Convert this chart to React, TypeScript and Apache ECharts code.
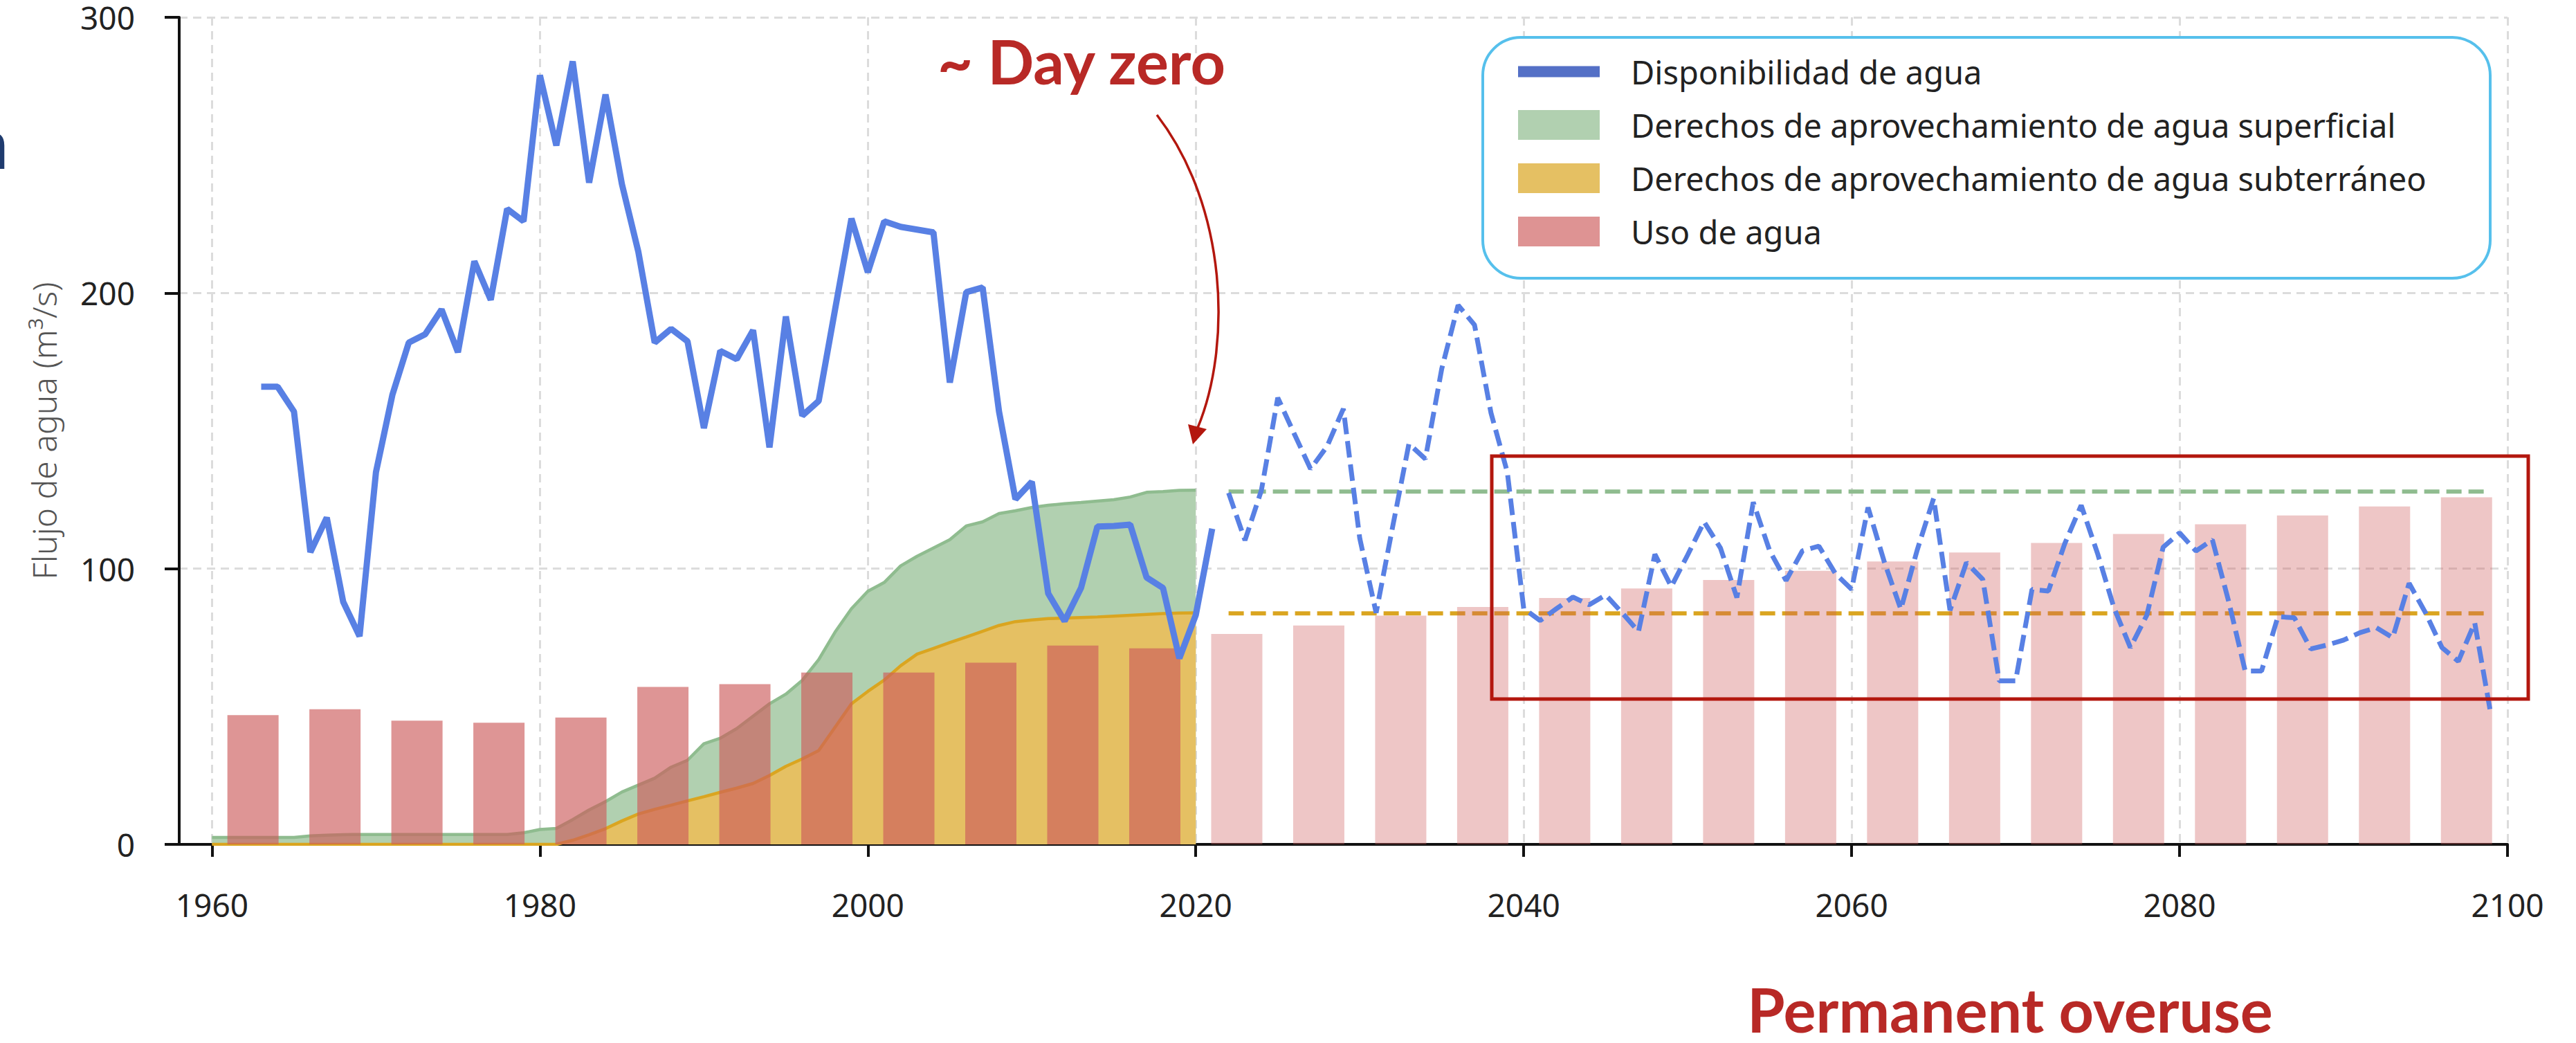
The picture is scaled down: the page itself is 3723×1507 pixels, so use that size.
import { useEffect, useRef } from "react";
import * as echarts from "echarts";

// ---------- data ----------
const xTickYears = [1960, 1980, 2000, 2020, 2040, 2060, 2080, 2100];

// Observed water availability (solid), one value per year from 1963
const observedStartYear = 1963;
const observedAvailability = [
  166, 166, 157, 106, 118.5, 88, 75.5, 135, 163, 182,
  185, 194, 178.5, 211.5, 197.5, 230.5, 226, 279, 253.5, 284,
  240, 272, 239.5, 215, 182, 187, 182.5, 151, 179, 176,
  186.5, 144, 191.5, 155.5, 160.8, 194, 227, 207.5, 226, 224,
  223, 222, 167.5, 200.3, 202, 157, 125.2, 131.5, 91, 81,
  93, 115.3, 115.5, 116, 96.8, 93, 67.5, 83.2, 114.5,
];

// Projected water availability (dashed), one value per year from 2022
const projectedStartYear = 2022;
const projectedAvailability = [
  127.5, 110.3, 128.4, 162, 149, 136.2, 144.3, 158, 111, 84,
  115, 145.3, 139.8, 172.5, 195.6, 188.4, 156.6, 135, 85.5, 81.2,
  85.5, 89.7, 86.9, 90.5, 84, 77.2, 105.2, 93.5, 105, 117,
  107.5, 89.5, 124.1, 106.5, 95.7, 106.5, 108.2, 98.3, 92.5, 122.2,
  102.3, 85.3, 106.8, 125.5, 84.9, 102.2, 96.1, 59.3, 59.3, 92.5,
  91.9, 109.1, 123, 105.5, 85.8, 71.4, 83.1, 107.8, 113, 106.4,
  110.5, 88, 62.9, 62.9, 82.6, 82.2, 70.9, 72.3, 74.1, 76.8,
  78.6, 75, 94.7, 84, 71.4, 66.4, 80.4, 46.7,
];

// Water-right allocations, one value per year from 1960 to 2020
const rightsStartYear = 1960;
const surfaceRights = [
  2.5, 2.5, 2.5, 2.5, 2.5, 2.5, 3.1, 3.3, 3.5, 3.6,
  3.6, 3.6, 3.6, 3.6, 3.6, 3.6, 3.6, 3.6, 3.6, 4.2,
  5.4, 5.8, 9, 12.5, 15.5, 19, 21.5, 24, 28, 30.5,
  36.5, 38.5, 42, 46.5, 51, 54.5, 59.5, 67, 77, 85.5,
  91.8, 95, 101, 104.5, 107.5, 110.5, 115.5, 117, 120, 121,
  122.2, 123, 123.6, 124, 124.5, 125, 126, 127.7, 128, 128.4,
  128.5,
];
const groundRights = [
  0, 0, 0, 0, 0, 0, 0, 0, 0, 0,
  0, 0, 0, 0, 0, 0, 0, 0, 0, 0,
  0, 0, 1.5, 3.5, 5.7, 8.5, 11, 12.7, 14.2, 15.8,
  17.3, 18.9, 20.4, 22.1, 25, 28.3, 31, 34, 42.5, 51,
  55.5, 59.6, 64.8, 69, 71.1, 73.2, 75.2, 77.3, 79.4, 80.8,
  81.4, 81.9, 82.1, 82.3, 82.5, 82.8, 83.1, 83.4, 83.7, 83.9,
  84,
];

// Projected (constant) rights
const rightsProjectionYears = [2022, 2098.6];
const surfaceRightsProjected = [128, 128];
const groundRightsProjected = [83.8, 83.8];

// Water use (bars), every 5 years
const useYears = [
  1962.5, 1967.5, 1972.5, 1977.5, 1982.5, 1987.5, 1992.5, 1997.5, 2002.5, 2007.5,
  2012.5, 2017.5, 2022.5, 2027.5, 2032.5, 2037.5, 2042.5, 2047.5, 2052.5, 2057.5,
  2062.5, 2067.5, 2072.5, 2077.5, 2082.5, 2087.5, 2092.5, 2097.5,
];
const waterUse = [
  46.9, 49.0, 44.9, 44.1, 46.0, 57.1, 58.1, 62.3, 62.3, 65.9,
  72.1, 71.1, 76.3, 79.4, 83.0, 86.1, 89.4, 92.8, 95.9, 99.2,
  102.6, 105.9, 109.3, 112.6, 116.1, 119.3, 122.6, 125.9,
];
const lastObservedYear = 2021;

const NAME_AVAIL = "Disponibilidad de agua";
const NAME_SURF = "Derechos de aprovechamiento de agua superficial";
const NAME_GROUND = "Derechos de aprovechamiento de agua subterráneo";
const NAME_USE = "Uso de agua";

// ---------- styles ----------
const BLUE = "#5880e4";
const GREEN_LINE = "#8fbc8f";
const GREEN_FILL = "#b1d0b0";
const GOLD_LINE = "#daa520";
const GOLD_FILL = "#e5c063";
const RED_TEXT = "#b82926";
const RED_MARK = "#b3170e";
const FONT = "'Noto Sans', 'DejaVu Sans', sans-serif";

function buildOption() {
  const pairs = (start: number, vals: number[]) => vals.map((v, i) => [start + i, v]);

  return {
    animation: false,
    backgroundColor: "#ffffff",
    textStyle: { fontFamily: FONT },
    grid: { left: 259, right: 99, top: 25, bottom: 287, outerBoundsMode: "none", containLabel: false },
    legend: {
      show: true,
      orient: "vertical",
      left: 2194,
      top: 80,
      padding: 0,
      itemWidth: 118,
      itemHeight: 43,
      itemGap: 30,
      selectedMode: false,
      z: 10,
      textStyle: { fontFamily: FONT, fontSize: 47, color: "#222", padding: [0, 0, 0, 40] },
      data: [
        { name: NAME_AVAIL, icon: "path://M0,0H118V16H0Z", itemStyle: { color: "#5470c6", borderWidth: 0 } },
        { name: NAME_SURF, icon: "rect", itemStyle: { color: GREEN_FILL, borderWidth: 0 } },
        { name: NAME_GROUND, icon: "rect", itemStyle: { color: GOLD_FILL, borderWidth: 0 } },
        { name: NAME_USE, icon: "rect", itemStyle: { color: "#de9393", borderWidth: 0 } },
      ],
    },
    xAxis: {
      type: "value",
      min: 1958,
      max: 2100,
      axisLine: { show: true, onZero: false, lineStyle: { color: "#111", width: 4 } },
      axisTick: { show: true, customValues: xTickYears, length: 18, lineStyle: { color: "#111", width: 4 } },
      axisLabel: {
        show: true,
        customValues: xTickYears,
        margin: 64,
        fontSize: 46,
        color: "#222",
        fontFamily: FONT,
        formatter: (v: number) => String(v),
      },
      splitLine: { show: true, lineStyle: { color: "#dcdcdc", width: 3, type: [12, 8] } },
    },
    yAxis: {
      type: "value",
      min: 0,
      max: 300,
      interval: 100,
      name: "Flujo de agua (m³/s)",
      nameLocation: "middle",
      nameGap: 172,
      nameTextStyle: { fontFamily: FONT, fontSize: 48, fontWeight: 300, color: "#555" },
      axisLine: { show: true, lineStyle: { color: "#111", width: 4 } },
      axisTick: { show: true, length: 21, lineStyle: { color: "#111", width: 4 } },
      axisLabel: { margin: 64, fontSize: 46, color: "#222", fontFamily: FONT, formatter: (v: number) => String(v) },
      splitLine: { show: true, lineStyle: { color: "#dcdcdc", width: 3, type: [12, 8] } },
    },
    series: [
      {
        name: NAME_SURF,
        type: "line",
        z: 2,
        data: pairs(rightsStartYear, surfaceRights),
        symbol: "none",
        silent: true,
        lineStyle: { color: GREEN_LINE, width: 4.5 },
        itemStyle: { color: GREEN_FILL },
        areaStyle: { color: GREEN_FILL, opacity: 1 },
      },
      {
        name: NAME_GROUND,
        type: "line",
        z: 2,
        data: pairs(rightsStartYear, groundRights),
        symbol: "none",
        silent: true,
        lineStyle: { color: GOLD_LINE, width: 4.5 },
        itemStyle: { color: GOLD_FILL },
        areaStyle: { color: GOLD_FILL, opacity: 1 },
      },
      {
        name: "Derechos superficiales (proyección)",
        type: "line",
        z: 2,
        data: rightsProjectionYears.map((y, i) => [y, surfaceRightsProjected[i]]),
        symbol: "none",
        silent: true,
        lineStyle: { color: GREEN_LINE, width: 6, type: [22, 10] },
      },
      {
        name: "Derechos subterráneos (proyección)",
        type: "line",
        z: 2,
        data: rightsProjectionYears.map((y, i) => [y, groundRightsProjected[i]]),
        symbol: "none",
        silent: true,
        lineStyle: { color: GOLD_LINE, width: 6, type: [22, 10] },
      },
      {
        name: NAME_USE,
        type: "bar",
        z: 3,
        barWidth: 74,
        silent: true,
        itemStyle: { color: "rgba(205,92,92,0.65)" },
        data: useYears.map((y, i) => ({
          value: [y, waterUse[i]],
          itemStyle: { color: y < lastObservedYear ? "rgba(205,92,92,0.65)" : "rgba(205,92,92,0.35)" },
        })),
      },
      {
        name: NAME_AVAIL,
        type: "line",
        z: 4,
        data: pairs(observedStartYear, observedAvailability),
        symbol: "none",
        silent: true,
        itemStyle: { color: "#5470c6" },
        lineStyle: { color: BLUE, width: 9 },
      },
      {
        name: "Disponibilidad de agua (proyección)",
        type: "line",
        z: 4,
        data: pairs(projectedStartYear, projectedAvailability),
        symbol: "none",
        silent: true,
        lineStyle: { color: BLUE, width: 7, type: [24, 10] },
      },
    ],
    graphic: [
      {
        type: "rect",
        z: 8,
        silent: true,
        shape: { x: 2143, y: 54, width: 1456, height: 348, r: 55 },
        style: { fill: "#ffffff", stroke: "#56c0ec", lineWidth: 4 },
      },
      {
        type: "rect",
        z: 20,
        silent: true,
        shape: { x: 2156, y: 659, width: 1498, height: 351 },
        style: { fill: "rgba(0,0,0,0)", stroke: RED_MARK, lineWidth: 5 },
      },
      {
        type: "bezierCurve",
        z: 20,
        silent: true,
        shape: { x1: 1672, y1: 166, cpx1: 1775, cpy1: 300, cpx2: 1780, cpy2: 500, x2: 1731, y2: 618 },
        style: { stroke: RED_MARK, lineWidth: 3.5, fill: "none" },
      },
      {
        type: "polygon",
        z: 20,
        silent: true,
        shape: { points: [[1724, 642], [1717, 613], [1744, 620]] },
        style: { fill: RED_MARK },
      },
      {
        type: "text",
        z: 20,
        silent: true,
        x: 1355,
        y: 88,
        style: {
          text: "~ Day zero",
          font: "bold 88px Lato, 'Noto Sans', sans-serif",
          fill: RED_TEXT,
          align: "left",
          verticalAlign: "middle",
          textAlign: "left",
          textVerticalAlign: "middle",
        },
      },
      {
        type: "text",
        z: 20,
        silent: true,
        x: 2905,
        y: 1458,
        style: {
          text: "Permanent overuse",
          font: "bold 88px Lato, 'Noto Sans', sans-serif",
          fill: RED_TEXT,
          align: "center",
          verticalAlign: "middle",
          textAlign: "center",
          textVerticalAlign: "middle",
        },
      },
      {
        type: "text",
        z: 20,
        silent: true,
        x: 13,
        y: 207,
        style: {
          text: "n",
          font: "bold 95px 'Noto Sans', sans-serif",
          fill: "#1f3b6e",
          align: "right",
          verticalAlign: "middle",
          textAlign: "right",
          textVerticalAlign: "middle",
        },
      },
    ],
  };
}

export default function App() {
  const ref = useRef<HTMLDivElement>(null);
  useEffect(() => {
    document.body.style.margin = "0";
    const chart = echarts.init(ref.current as HTMLDivElement, null, { renderer: "svg" });
    chart.setOption(buildOption() as any);
    return () => chart.dispose();
  }, []);
  return (
    <div
      ref={ref}
      style={{ position: "fixed", left: 0, top: 0, width: 3723, height: 1507, background: "#fff" }}
    />
  );
}
